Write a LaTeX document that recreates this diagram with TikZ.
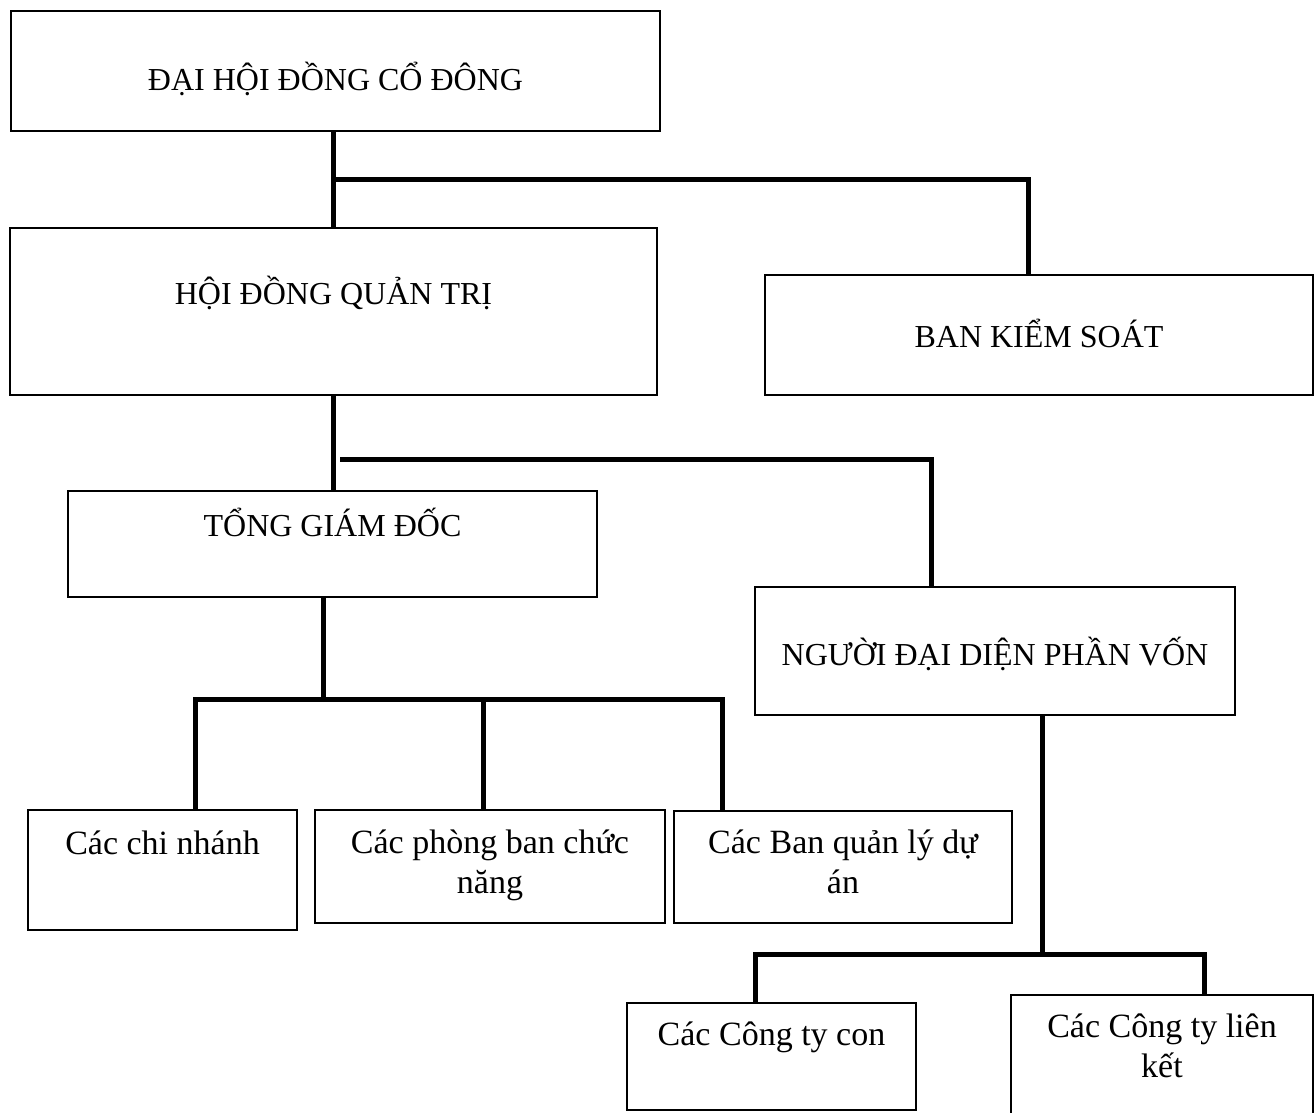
\documentclass[tikz,border=0pt]{standalone}
\usepackage{fontspec}
\setmainfont{Liberation Serif}
\begin{document}
\begin{tikzpicture}[x=1pt,y=-1pt,
  orgbox/.style={draw=black,line width=1.6pt,rectangle,inner sep=0pt,fill=white},
  conn/.style={draw=black,line width=5pt},
  captxt/.style={font=\fontsize{32}{39}\selectfont,inner sep=0pt,anchor=base},
  lowtxt/.style={font=\fontsize{34}{40}\selectfont,inner sep=0pt,anchor=base,align=center}]
\useasboundingbox (0,0) rectangle (1315,1113);
\clip (0,0) rectangle (1315,1113);
% boxes
\node[orgbox,minimum width=649pt,minimum height=120pt] (dhd) at (335.5,71) {};
\node[orgbox,minimum width=647pt,minimum height=167pt] (hdqt) at (333.5,311.5) {};
\node[orgbox,minimum width=548pt,minimum height=120pt] (bks) at (1039,335) {};
\node[orgbox,minimum width=529pt,minimum height=106pt] (tgd) at (332.5,544) {};
\node[orgbox,minimum width=480pt,minimum height=128pt] (ndd) at (995,651) {};
\node[orgbox,minimum width=269pt,minimum height=120pt] (ccn) at (162.5,870) {};
\node[orgbox,minimum width=350pt,minimum height=113pt] (cpb) at (490,866.5) {};
\node[orgbox,minimum width=338pt,minimum height=112pt] (cbq) at (843,867) {};
\node[orgbox,minimum width=289pt,minimum height=107pt] (ctc) at (771.5,1056.5) {};
\node[orgbox,minimum width=302pt,minimum height=130pt] (clk) at (1162,1060) {};
% texts
\node[captxt] (tdhd) at (335.5,91) {ĐẠI HỘI ĐỒNG CỔ ĐÔNG};
\node[captxt] (thdqt) at (333.5,304) {HỘI ĐỒNG QUẢN TRỊ};
\node[captxt] (tbks) at (1039,347) {BAN KIỂM SOÁT};
\node[captxt] (ttgd) at (332.5,536) {TỔNG GIÁM ĐỐC};
\node[captxt] (tndd) at (995,665) {NGƯỜI ĐẠI DIỆN PHẦN VỐN};
\node[lowtxt] (tccn) at (162.5,854) {Các chi nhánh};
\node[lowtxt] (tcpb) at (490,893) {Các phòng ban chức\\năng};
\node[lowtxt] (tcbq) at (843,893) {Các Ban quản lý dự\\án};
\node[lowtxt] (tctc) at (771.5,1045) {Các Công ty con};
\node[lowtxt] (tclk) at (1162,1077) {Các Công ty liên\\kết};
% junctions
\coordinate (j1) at (333,180);
\coordinate (j2) at (340,459);
\coordinate (j3) at (323,699);
\coordinate (j4) at (1042,954);
% connectors
\draw[conn] (dhd.south -| j1) -- (hdqt.north -| j1);
\draw[conn] (j1) -| ([xshift=-11pt]bks.north);
\draw[conn] (hdqt.south -| j1) -- (tgd.north -| j1);
\draw[conn] (j2) -| ([xshift=-64pt]ndd.north);
\draw[conn] (tgd.south -| j3) -- (j3);
\draw[conn] ([xshift=32.5pt]ccn.north) |- ([xshift=-121pt]cbq.north |- j3) -- ([xshift=-121pt]cbq.north);
\draw[conn] ([xshift=-7pt]cpb.north) -- ([xshift=-7pt]cpb.north |- j3);
\draw[conn] (ndd.south -| j4) -- (j4);
\draw[conn] ([xshift=-16.5pt]ctc.north) |- ([xshift=42pt]clk.north |- j4) -- ([xshift=42pt]clk.north);
\end{tikzpicture}
\end{document}
